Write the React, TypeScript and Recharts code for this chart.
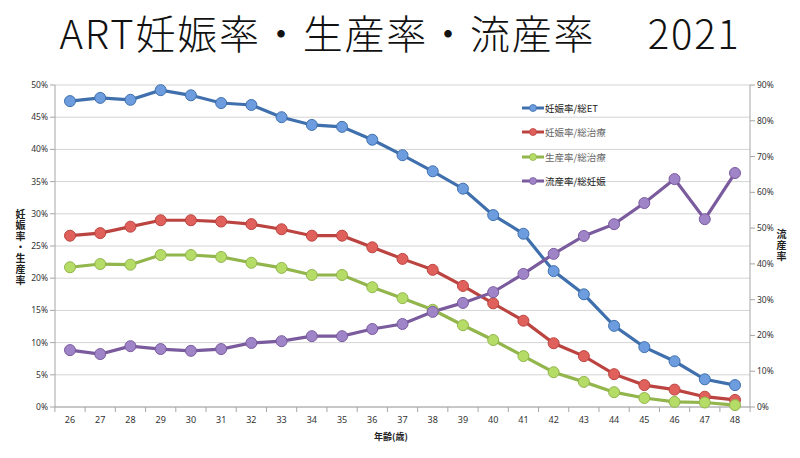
import React from "react";
import { LineChart, Line, XAxis, YAxis, CartesianGrid } from "recharts";

// ─── Data ─────────────────────────────────────────────────────────────────────

const ages = ["26", "27", "28", "29", "30", "31", "32", "33", "34", "35", "36", "37",
  "38", "39", "40", "41", "42", "43", "44", "45", "46", "47", "48"];

// 妊娠率/総ET (left axis)
const pregPerET = [47.5, 48.0, 47.7, 49.2, 48.4, 47.2, 46.9, 45.0, 43.8, 43.5, 41.5, 39.1,
  36.6, 33.9, 29.8, 26.9, 21.1, 17.5, 12.6, 9.3, 7.1, 4.3, 3.4];

// 妊娠率/総治療 (left axis)
const pregPerTx = [26.6, 27.0, 28.0, 29.0, 29.0, 28.8, 28.4, 27.6, 26.6, 26.6, 24.8, 23.0,
  21.3, 18.8, 16.1, 13.4, 9.9, 7.9, 5.1, 3.4, 2.7, 1.6, 1.1];

// 生産率/総治療 (left axis)
const livePerTx = [21.7, 22.2, 22.1, 23.6, 23.6, 23.3, 22.4, 21.6, 20.5, 20.5, 18.6, 16.9,
  15.1, 12.7, 10.4, 7.9, 5.4, 3.9, 2.3, 1.4, 0.8, 0.7, 0.3];

// 流産率/総妊娠 (right axis)
const miscPerPreg = [15.9, 14.8, 17.0, 16.2, 15.7, 16.2, 17.9, 18.4, 19.8, 19.8, 21.8, 23.2,
  26.6, 29.1, 32.1, 37.2, 42.8, 47.8, 51.1, 57.0, 63.7, 52.5, 65.4];

const leftTicks = [0, 5, 10, 15, 20, 25, 30, 35, 40, 45, 50];
const rightTicks = [0, 10, 20, 30, 40, 50, 60, 70, 80, 90];

const series = [
  { key: "pregET", name: "妊娠率/総ET", values: pregPerET, axis: "left", stroke: "#3f70ad", fill: "#6d9ddf" },
  { key: "pregTx", name: "妊娠率/総治療", values: pregPerTx, axis: "left", stroke: "#bb4440", fill: "#e0605c" },
  { key: "liveTx", name: "生産率/総治療", values: livePerTx, axis: "left", stroke: "#92b54c", fill: "#b5dc67" },
  { key: "miscPreg", name: "流産率/総妊娠", values: miscPerPreg, axis: "right", stroke: "#7a5b9e", fill: "#a084c8" },
];

const data = ages.map((age, i) => {
  const row: Record<string, string | number> = { age };
  series.forEach((s) => { row[s.key] = s.values[i]; });
  return row;
});

// ─── Style ────────────────────────────────────────────────────────────────────

const W = 800;
const H = 458;
const tickFont = "'Noto Sans', 'DejaVu Sans', sans-serif";
const jpFont = "'Noto Sans CJK JP', sans-serif";
const axisColor = "#a6a6a6";
const HALF_STEP = 15.1;

function AgeTick(props: any) {
  const { x, y, payload, index } = props;
  return (
    <g>
      <line x1={x - HALF_STEP} x2={x - HALF_STEP} y1={y - 8} y2={y - 3} stroke={axisColor} />
      {index === ages.length - 1 && (
        <line x1={x + HALF_STEP} x2={x + HALF_STEP} y1={y - 8} y2={y - 3} stroke={axisColor} />
      )}
      <text x={x} y={y + 8} textAnchor="middle" fontSize={9} fill="#333" fontFamily={tickFont}>
        {payload.value}
      </text>
    </g>
  );
}

function LegendBox() {
  return (
    <div style={{ position: "absolute", left: 521, top: 96, fontFamily: jpFont, fontSize: 9.5 }}>
      {series.map((s, i) => (
        <div key={s.key} style={{ display: "flex", alignItems: "center", height: 24.3, color: i === 0 || i === 3 ? "#222" : "#666" }}>
          <svg width={24} height={12}>
            <line x1={1} x2={23} y1={6} y2={6} stroke={s.stroke} strokeWidth={3} />
            <circle cx={12} cy={6} r={3.5} fill={s.fill} stroke={s.stroke} strokeWidth={0.8} />
          </svg>
          <span>{s.name}</span>
        </div>
      ))}
    </div>
  );
}

const vLabel: React.CSSProperties = {
  position: "absolute", writingMode: "vertical-rl", textOrientation: "upright",
  fontFamily: jpFont, fontSize: 10, fontWeight: 700, color: "#222", lineHeight: "12px", letterSpacing: 1,
};

export default function App() {
  return (
    <div style={{ position: "absolute", left: 0, top: 0, width: W, height: H, background: "#fff", overflow: "hidden" }}>
      <div
        style={{
          position: "absolute", left: 0, top: 6, width: W, textAlign: "center",
          fontFamily: jpFont, fontSize: 40, fontWeight: 300, color: "#111", lineHeight: "52px",
          letterSpacing: 1.8, whiteSpace: "pre",
        }}
      >
        {"ART妊娠率・生産率・流産率　 2021"}
      </div>

      <LineChart
        width={W}
        height={H}
        data={data}
        margin={{ top: 85, right: 0, left: 0, bottom: 0 }}
        style={{ position: "absolute", left: 0, top: 0 }}
      >
        <CartesianGrid yAxisId="left" vertical={false} stroke="#d4d4d4" />
        <XAxis
          dataKey="age"
          height={51}
          padding={{ left: 15, right: 15 }}
          stroke={axisColor}
          tickLine={false}
          tick={<AgeTick />}
          interval={0}
        />
        <YAxis
          yAxisId="left"
          width={55}
          domain={[0, 50]}
          ticks={leftTicks}
          tickFormatter={(v) => `${v}%`}
          stroke={axisColor}
          tickSize={5}
          tick={{ fill: "#333", fontSize: 8.5, fontFamily: tickFont }}
          interval={0}
        />
        <YAxis
          yAxisId="right"
          orientation="right"
          width={50}
          domain={[0, 90]}
          ticks={rightTicks}
          tickFormatter={(v) => `${v}%`}
          stroke={axisColor}
          tickSize={5}
          tick={{ fill: "#333", fontSize: 8.5, fontFamily: tickFont }}
          interval={0}
        />
        {series.map((s) => (
          <Line
            key={s.key}
            yAxisId={s.axis}
            dataKey={s.key}
            name={s.name}
            type="linear"
            stroke={s.stroke}
            strokeWidth={3.2}
            dot={{ r: 5.5, fill: s.fill, stroke: s.stroke, strokeWidth: 1 }}
            activeDot={false}
            isAnimationActive={false}
          />
        ))}
      </LineChart>

      <LegendBox />
      <div style={{ ...vLabel, left: 14, top: 209 }}>妊娠率・生産率</div>
      <div style={{ ...vLabel, left: 775, top: 229 }}>流産率</div>
      <div
        style={{
          position: "absolute", left: 374, top: 430, fontFamily: jpFont, fontSize: 9,
          fontWeight: 700, color: "#222",
        }}
      >
        年齢(歳)
      </div>
    </div>
  );
}
